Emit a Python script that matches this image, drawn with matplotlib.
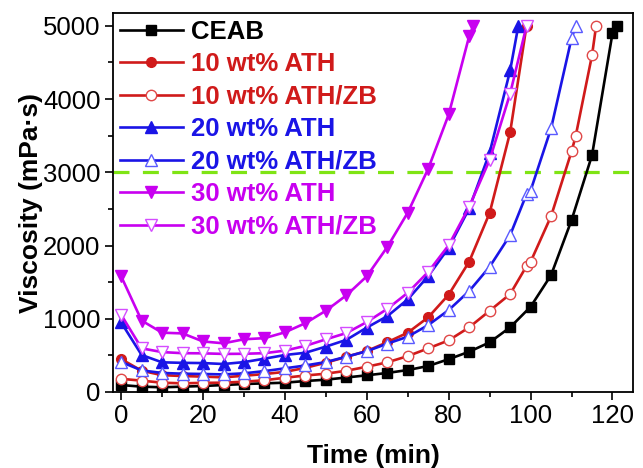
import matplotlib
matplotlib.use("Agg")
from matplotlib import pyplot as plt
from matplotlib.ticker import MultipleLocator

plt.rcParams['font.family'] = ['Liberation Sans', 'DejaVu Sans']

# data (time in min, viscosity in mPa.s)
t_ceab = [0, 5, 10, 15, 20, 25, 30, 35, 40, 45, 50, 55, 60, 65, 70, 75, 80, 85, 90, 95, 100, 105, 110, 115, 120, 121]
v_ceab = [95, 73, 64, 73, 82, 95, 109, 118, 127, 150, 168, 198, 228, 260, 300, 355, 448, 550, 678, 883, 1164, 1596, 2347, 3233, 4900, 5000]

t_10ath = [0, 5, 10, 15, 20, 25, 30, 35, 40, 45, 50, 55, 60, 65, 70, 75, 80, 85, 90, 95, 99]
v_10ath = [450, 290, 230, 218, 210, 200, 222, 245, 275, 330, 400, 480, 560, 680, 810, 1020, 1330, 1780, 2446, 3545, 5000]

t_10zb = [0, 5, 10, 15, 20, 25, 30, 35, 40, 45, 50, 55, 60, 65, 70, 75, 80, 85, 90, 95, 99, 100, 105, 110, 111, 115, 116]
v_10zb = [180, 155, 127, 118, 125, 127, 141, 160, 195, 225, 250, 290, 345, 405, 490, 596, 705, 883, 1109, 1337, 1719, 1778, 2401, 3285, 3492, 4598, 5000]

t_20ath = [0, 5, 10, 15, 20, 25, 30, 35, 40, 45, 50, 55, 60, 65, 70, 75, 80, 85, 90, 95, 97]
v_20ath = [950, 505, 405, 398, 395, 382, 408, 455, 505, 536, 620, 712, 880, 1035, 1265, 1583, 1970, 2506, 3270, 4390, 5000]

t_20zb = [0, 5, 10, 15, 20, 25, 30, 35, 40, 45, 50, 55, 60, 65, 70, 75, 80, 85, 90, 95, 99, 100, 105, 110, 111]
v_20zb = [410, 295, 260, 250, 246, 240, 255, 285, 323, 362, 409, 482, 557, 660, 755, 914, 1119, 1378, 1710, 2142, 2700, 2750, 3600, 4830, 5000]

t_30ath = [0, 5, 10, 15, 20, 25, 30, 35, 40, 45, 50, 55, 60, 65, 70, 75, 80, 85, 86]
v_30ath = [1580, 975, 810, 800, 690, 665, 720, 735, 815, 940, 1110, 1320, 1580, 1980, 2450, 3050, 3790, 4860, 5000]

t_30zb = [0, 5, 10, 15, 20, 25, 30, 35, 40, 45, 50, 55, 60, 65, 70, 75, 80, 85, 90, 95, 99]
v_30zb = [1055, 596, 545, 530, 528, 520, 522, 530, 565, 630, 719, 805, 955, 1135, 1355, 1640, 2005, 2530, 3170, 4075, 5000]

limit_line = 3000

black = '#000000'
red = '#D01A1A'
blue = '#1A14E6'
magenta = '#C800F0'

fig = plt.figure(figsize=(6.43, 4.68), dpi=100)
ax = fig.add_axes([0.1757, 0.1624, 0.8087, 0.8098])

lw = 1.9
series = [
    (t_ceab, v_ceab, 'CEAB', black, 's', black, black, 6.5),
    (t_10ath, v_10ath, '10 wt% ATH', red, 'o', red, red, 7),
    (t_10zb, v_10zb, '10 wt% ATH/ZB', red, 'o', 'white', '#E04848', 7.5),
    (t_20ath, v_20ath, '20 wt% ATH', blue, '^', blue, blue, 8),
    (t_20zb, v_20zb, '20 wt% ATH/ZB', blue, '^', 'white', '#5A5AFF', 8.5),
    (t_30ath, v_30ath, '30 wt% ATH', magenta, 'v', magenta, magenta, 8),
    (t_30zb, v_30zb, '30 wt% ATH/ZB', magenta, 'v', 'white', '#D44CFF', 8.5),
]
for t, v, name, col, mk, mfc, mec, ms in series:
    ax.plot(t, v, color=col, lw=lw, marker=mk, markersize=ms,
            markerfacecolor=mfc, markeredgecolor=mec, markeredgewidth=1.0,
            label=name)

# 3000 mPa.s reference line
ax.axhline(limit_line, color='#7FE414', lw=2.3, dashes=(5, 4.2), zorder=1)

ax.set_xlim(-2, 125)
ax.set_ylim(0, 5175)
ax.xaxis.set_major_locator(MultipleLocator(20))
ax.xaxis.set_minor_locator(MultipleLocator(10))
ax.yaxis.set_major_locator(MultipleLocator(1000))
ax.yaxis.set_minor_locator(MultipleLocator(500))
ax.tick_params(which='both', direction='out', width=1.2, labelsize=18.5, pad=3)
ax.tick_params(which='major', length=6)
ax.tick_params(which='minor', length=3.5)
for sp in ax.spines.values():
    sp.set_linewidth(1.3)

ax.set_xlabel('Time (min)', fontsize=19, fontweight='bold', labelpad=11)
ax.set_ylabel('Viscosity (mPa·s)', fontsize=19, fontweight='bold', labelpad=0)

leg = ax.legend(loc='upper left', bbox_to_anchor=(0.0, 1.0), frameon=False,
                prop={'size': 18.5, 'weight': 'bold'}, handlelength=2.45,
                handletextpad=0.3, labelspacing=0.33, borderaxespad=0.15,
                borderpad=0.12)
for txt, s in zip(leg.get_texts(), series):
    txt.set_color(s[3])

fig.savefig('out.png', dpi=100)
